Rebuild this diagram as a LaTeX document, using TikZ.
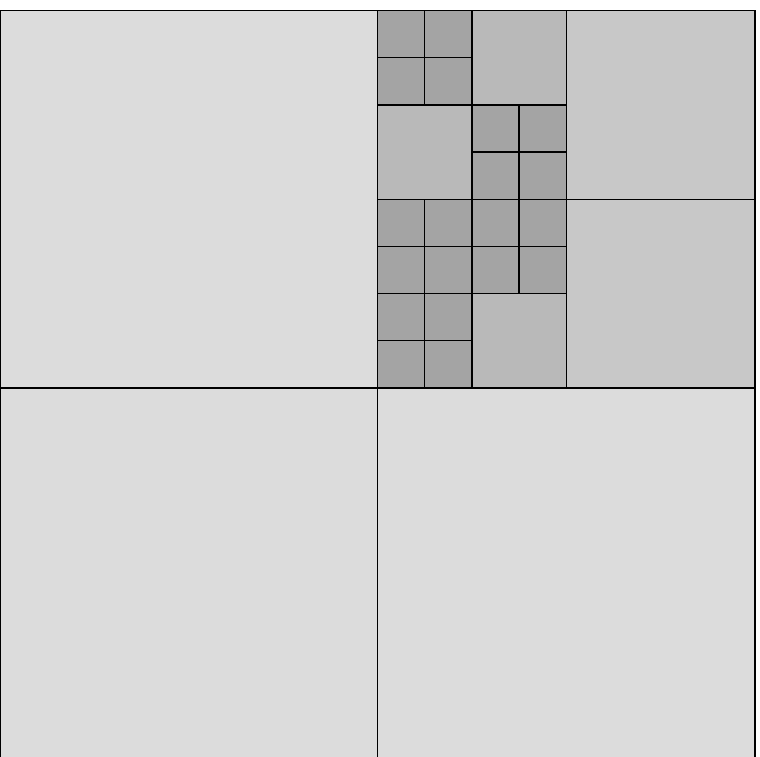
\documentclass[tikz,border=0pt]{standalone}

\definecolor{quadone}{RGB}{220,220,220}
\definecolor{quadtwo}{RGB}{200,200,200}
\definecolor{quadthree}{RGB}{185,185,185}
\definecolor{quadfour}{RGB}{164,164,164}

\tikzset{
  cellone/.style={draw=black, fill=quadone, line width=0.4pt},
  celltwo/.style={draw=black, fill=quadtwo, line width=0.4pt},
  cellthree/.style={draw=black, fill=quadthree, line width=0.4pt},
  cellfour/.style={draw=black, fill=quadfour, line width=0.4pt}
}

\begin{document}
\begin{tikzpicture}[x=0.5cm, y=-0.5cm]

        % Frame of the picture (square is cut at the bottom)
        \useasboundingbox (0,-0.2225) rectangle (16.106,15.799);
        \clip (0,-0.2225) rectangle (16.106,15.799);

        % Level 1 cells
        \draw[cellone] (0,0) rectangle ++(8,8);
        \draw[cellone] (0,8) rectangle ++(8,8);
        \draw[cellone] (8,8) rectangle ++(8,8);

        % Level 2 cells
        \draw[celltwo] (12,0) rectangle ++(4,4);
        \draw[celltwo] (12,4) rectangle ++(4,4);

        % Level 3 cells
        \foreach \x/\y in {10/0, 8/2, 10/6}
            \draw[cellthree] (\x,\y) rectangle ++(2,2);

        % Level 4 cells
        \foreach \bx/\by in {8/0, 10/2, 8/4, 10/4, 8/6}
            \foreach \i in {0,1}
                \foreach \j in {0,1}
                    \draw[cellfour] (\bx+\i,\by+\j) rectangle ++(1,1);

\end{tikzpicture}
\end{document}
